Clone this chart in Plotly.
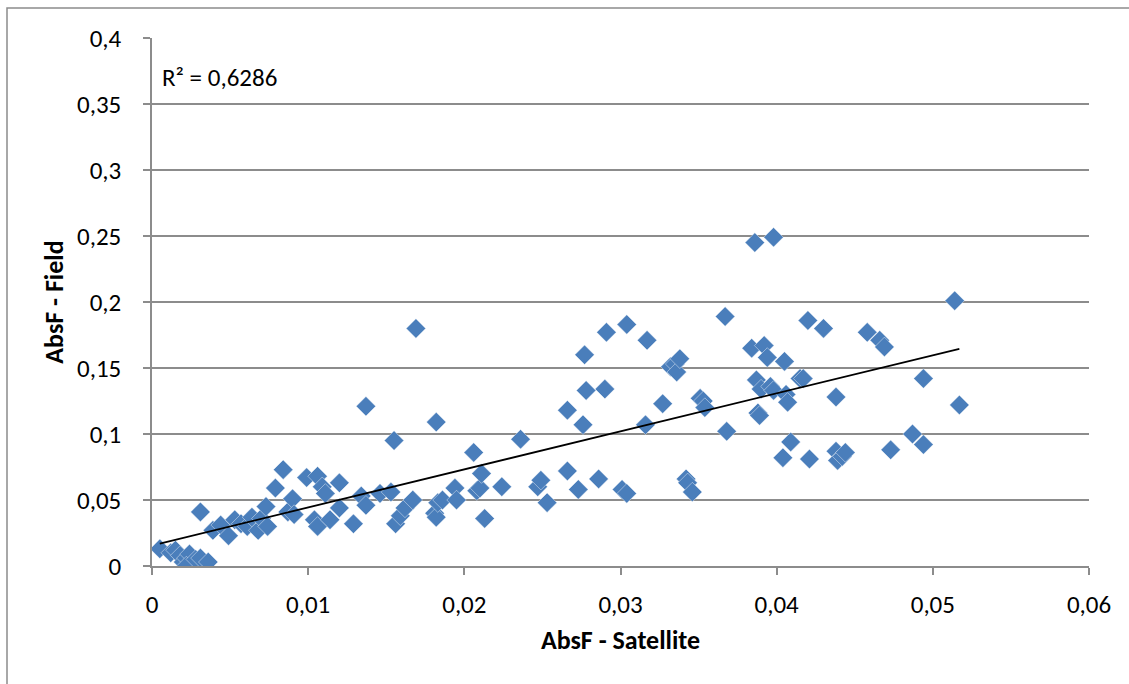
import numpy as np
import plotly.graph_objects as go

# AbsF - Satellite (x) and AbsF - Field (y)
sat = [0.0005, 0.0012, 0.0015, 0.0018, 0.0020, 0.0022, 0.0024, 0.0022, 0.0028, 0.0031, 0.0036,
       0.0031, 0.0039, 0.0044, 0.0049, 0.0053, 0.0057, 0.0061, 0.0064, 0.0068, 0.0070, 0.0073,
       0.0074, 0.0079, 0.0084, 0.0087, 0.0090, 0.0091, 0.0099, 0.0104, 0.0106, 0.0106, 0.0109,
       0.0111, 0.0114, 0.0120, 0.0120, 0.0129, 0.0134, 0.0137, 0.0137, 0.0146, 0.0153, 0.0155,
       0.0156, 0.0159, 0.0162, 0.0167, 0.0169, 0.0181, 0.0182, 0.0183, 0.0182, 0.0186, 0.0194,
       0.0195, 0.0206, 0.0208, 0.0210, 0.0211, 0.0213, 0.0224, 0.0236, 0.0247, 0.0249, 0.0253,
       0.0266, 0.0266, 0.0273, 0.0276, 0.0277, 0.0278, 0.0286, 0.0290, 0.0291, 0.0301, 0.0304,
       0.0304, 0.0316, 0.0317, 0.0327, 0.0332, 0.0335, 0.0336, 0.0338, 0.0342, 0.0343, 0.0346,
       0.0351, 0.0353, 0.0354, 0.0367, 0.0368, 0.0384, 0.0386, 0.0387, 0.0388, 0.0389, 0.0390,
       0.0392, 0.0394, 0.0396, 0.0398, 0.0398, 0.0404, 0.0405, 0.0406, 0.0407, 0.0409, 0.0415,
       0.0417, 0.0420, 0.0421, 0.0430, 0.0438, 0.0438, 0.0439, 0.0442, 0.0444, 0.0458, 0.0466,
       0.0469, 0.0473, 0.0487, 0.0494, 0.0494, 0.0514, 0.0517]
field = [0.013, 0.010, 0.012, 0.008, 0.003, 0.006, 0.009, 0.000, 0.005, 0.006, 0.003,
         0.041, 0.027, 0.031, 0.023, 0.035, 0.032, 0.030, 0.037, 0.027, 0.036, 0.045,
         0.030, 0.059, 0.073, 0.041, 0.051, 0.039, 0.067, 0.035, 0.030, 0.068, 0.060,
         0.055, 0.035, 0.063, 0.044, 0.032, 0.053, 0.046, 0.121, 0.055, 0.056, 0.095,
         0.032, 0.038, 0.044, 0.050, 0.180, 0.040, 0.037, 0.048, 0.109, 0.050, 0.059,
         0.050, 0.086, 0.057, 0.059, 0.070, 0.036, 0.060, 0.096, 0.060, 0.065, 0.048,
         0.118, 0.072, 0.058, 0.107, 0.160, 0.133, 0.066, 0.134, 0.177, 0.058, 0.055,
         0.183, 0.107, 0.171, 0.123, 0.151, 0.153, 0.147, 0.157, 0.066, 0.063, 0.056,
         0.127, 0.125, 0.120, 0.189, 0.102, 0.165, 0.245, 0.141, 0.116, 0.114, 0.134,
         0.167, 0.158, 0.136, 0.249, 0.133, 0.082, 0.155, 0.130, 0.124, 0.094, 0.142,
         0.142, 0.186, 0.081, 0.180, 0.128, 0.087, 0.080, 0.083, 0.086, 0.177, 0.171,
         0.166, 0.088, 0.100, 0.092, 0.142, 0.201, 0.122]

r2_label = "R² = 0,6286"
x_title = "AbsF - Satellite"
y_title = "AbsF - Field"
x_tickvals = [0, 0.01, 0.02, 0.03, 0.04, 0.05, 0.06]
x_ticktext = ["0", "0,01", "0,02", "0,03", "0,04", "0,05", "0,06"]
y_tickvals = [0, 0.05, 0.1, 0.15, 0.2, 0.25, 0.3, 0.35, 0.4]
y_ticktext = ["0", "0,05", "0,1", "0,15", "0,2", "0,25", "0,3", "0,35", "0,4"]

# linear trendline (least squares through the data)
slope, intercept = np.polyfit(sat, field, 1)
tx = np.array([min(sat), max(sat)])
ty = slope * tx + intercept

FONT = "Carlito, Calibri, Lato, sans-serif"
GRID = "#8c8c8c"
TICK_SIZE = 25
TITLE_SIZE = 26

fig = go.Figure()
fig.add_trace(go.Scatter(
    x=sat, y=field, mode="markers",
    marker=dict(symbol="diamond", size=15, color="#4a7ebb",
                line=dict(width=0.6, color="rgba(255,255,255,0.7)")),
    showlegend=False, hoverinfo="x+y"))
fig.add_trace(go.Scatter(
    x=tx, y=ty, mode="lines", line=dict(color="black", width=1.8),
    showlegend=False, hoverinfo="skip"))

W, H = 1129, 684
L, R, T, B = 152, 40, 38, 118
pw, ph = W - L - R, H - T - B

fig.update_layout(
    width=W, height=H,
    margin=dict(l=L, r=R, t=T, b=B),
    paper_bgcolor="white", plot_bgcolor="white",
    font=dict(family=FONT, size=TICK_SIZE, color="black"),
    xaxis=dict(range=[0, 0.06], tickvals=x_tickvals, ticktext=x_ticktext,
               showgrid=False, zeroline=False, showline=True, linecolor=GRID, linewidth=1.5,
               ticks="outside", ticklen=7, tickcolor=GRID, tickwidth=1.5,
               tickfont=dict(size=TICK_SIZE), ticklabelstandoff=8,
               title=dict(text="<b>" + x_title + "</b>", font=dict(size=TITLE_SIZE), standoff=12)),
    yaxis=dict(range=[0, 0.4], tickvals=y_tickvals, ticktext=y_ticktext,
               showgrid=True, gridcolor=GRID, gridwidth=1.5,
               zeroline=False, showline=True, linecolor=GRID, linewidth=1.5,
               ticks="outside", ticklen=7, tickcolor=GRID, tickwidth=1.5,
               tickfont=dict(size=TICK_SIZE), ticklabelstandoff=17,
               title=dict(text="<b>" + y_title + "</b>", font=dict(size=TITLE_SIZE), standoff=6)),
    annotations=[dict(text=r2_label, xref="paper", yref="paper",
                      x=(160 - L) / pw, y=1 - (77 - T) / ph, xanchor="left", yanchor="middle",
                      showarrow=False, font=dict(size=TICK_SIZE, family=FONT))],
    shapes=[dict(type="rect", xref="paper", yref="paper",
                 x0=(7 - L) / pw, x1=(W + 10 - L) / pw,
                 y0=1 - (H + 10 - T) / ph, y1=1 - (8 - T) / ph,
                 line=dict(color="#8c8c8c", width=1.5), layer="below")],
)

fig.write_html("out.html")
